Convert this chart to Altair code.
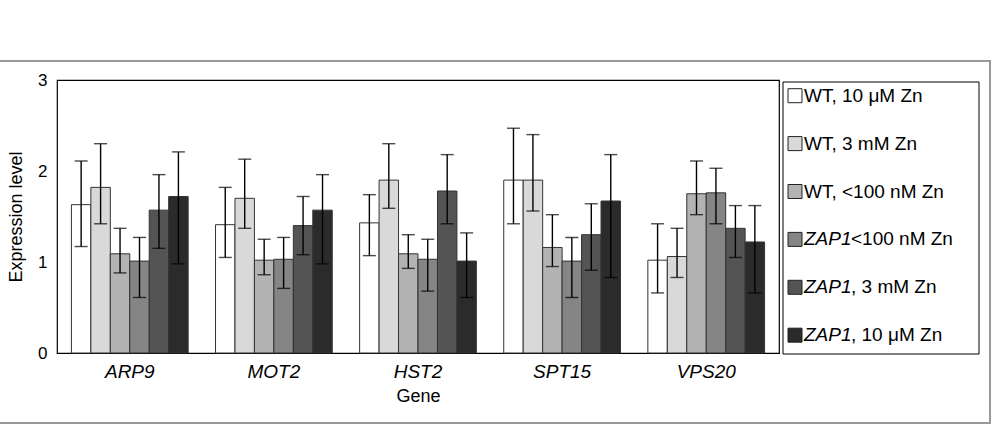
import altair as alt
import pandas as pd

genes = ["ARP9", "MOT2", "HST2", "SPT15", "VPS20"]
series = ["WT, 10 μM Zn", "WT, 3 mM Zn", "WT, <100 nM Zn",
          "ZAP1 <100 nM Zn", "ZAP1, 3 mM Zn", "ZAP1, 10 μM Zn"]
colors = ["#ffffff", "#d9d9d9", "#b3b3b3", "#858585", "#545454", "#2b2b2b"]

# legend text split into italic gene part and plain part
legend_italic = ["", "", "", "ZAP1", "ZAP1", "ZAP1"]
legend_plain = ["WT, 10 μM Zn", "WT, 3 mM Zn", "WT, <100 nM Zn",
                "<100 nM Zn", ", 3 mM Zn", ", 10 μM Zn"]

means = {
    "WT, 10 μM Zn":    [1.63, 1.41, 1.43, 1.90, 1.02],
    "WT, 3 mM Zn":     [1.82, 1.70, 1.90, 1.90, 1.06],
    "WT, <100 nM Zn":  [1.09, 1.02, 1.09, 1.16, 1.75],
    "ZAP1 <100 nM Zn": [1.01, 1.03, 1.03, 1.01, 1.76],
    "ZAP1, 3 mM Zn":   [1.57, 1.40, 1.78, 1.30, 1.37],
    "ZAP1, 10 μM Zn":  [1.72, 1.57, 1.01, 1.67, 1.22],
}
upper = {
    "WT, 10 μM Zn":    [2.11, 1.82, 1.74, 2.47, 1.42],
    "WT, 3 mM Zn":     [2.30, 2.13, 2.30, 2.40, 1.37],
    "WT, <100 nM Zn":  [1.37, 1.25, 1.30, 1.52, 2.11],
    "ZAP1 <100 nM Zn": [1.27, 1.27, 1.25, 1.27, 2.03],
    "ZAP1, 3 mM Zn":   [1.96, 1.72, 2.18, 1.64, 1.62],
    "ZAP1, 10 μM Zn":  [2.21, 1.96, 1.32, 2.18, 1.62],
}
lower = {
    "WT, 10 μM Zn":    [1.17, 1.05, 1.07, 1.42, 0.66],
    "WT, 3 mM Zn":     [1.42, 1.37, 1.59, 1.56, 0.83],
    "WT, <100 nM Zn":  [0.88, 0.86, 0.93, 0.95, 1.52],
    "ZAP1 <100 nM Zn": [0.61, 0.71, 0.68, 0.61, 1.42],
    "ZAP1, 3 mM Zn":   [1.15, 1.08, 1.42, 0.91, 1.05],
    "ZAP1, 10 μM Zn":  [0.98, 0.98, 0.61, 0.83, 0.66],
}

rows = []
for s in series:
    for i, g in enumerate(genes):
        rows.append({"gene": g, "series": s, "value": means[s][i],
                     "hi": upper[s][i], "lo": lower[s][i]})
df = pd.DataFrame(rows)
leg_df = pd.DataFrame({"series": series, "ital": legend_italic, "plain": legend_plain})
one = pd.DataFrame({"k": [0]})

FONT = "Liberation Sans"
W, H = 722, 273

xaxis = alt.Axis(title="Gene", labelFontStyle="italic", labelFontSize=19,
                 titleFontSize=18, titleFontWeight="normal",
                 labelPadding=9, titlePadding=6, ticks=False,
                 domain=False, labelAngle=0, labelColor="black",
                 titleColor="black")
xscale = alt.Scale(paddingInner=0.19, paddingOuter=0.1)
xenc = alt.X("gene:N", sort=genes, scale=xscale, axis=xaxis)
xoff = alt.XOffset("series:N", sort=series, scale=alt.Scale(paddingInner=0, paddingOuter=0))
cenc = alt.Color("series:N", sort=series,
                 scale=alt.Scale(domain=series, range=colors), legend=None)
yscale = alt.Scale(domain=[0, 3], nice=False)
yaxis = alt.Axis(title="Expression level", values=[0, 1, 2, 3], format="d",
                 labelFontSize=17, titleFontSize=18,
                 titleFontWeight="normal", labelPadding=10,
                 titlePadding=12, ticks=False, domain=False,
                 grid=False, labelColor="black", titleColor="black")

base = alt.Chart(df)
bars = base.mark_bar(stroke="#333333", strokeWidth=1).encode(
    x=xenc, xOffset=xoff,
    y=alt.Y("value:Q", scale=yscale, axis=yaxis),
    color=cenc,
)
err = base.mark_rule(color="black", strokeWidth=1.4).encode(
    x=xenc, xOffset=xoff,
    y=alt.Y("lo:Q", scale=yscale, axis=yaxis), y2="hi:Q")
cap_hi = base.mark_tick(orient="horizontal", color="black", size=13, thickness=1.4).encode(
    x=xenc, xOffset=xoff, y=alt.Y("hi:Q", scale=yscale, axis=yaxis))
cap_lo = base.mark_tick(orient="horizontal", color="black", size=13, thickness=1.4).encode(
    x=xenc, xOffset=xoff, y=alt.Y("lo:Q", scale=yscale, axis=yaxis))
main = alt.layer(bars, err, cap_hi, cap_lo)

# outer gray frame and legend box
frame = alt.Chart(one).mark_rect(fill=None, stroke="#999999", strokeWidth=2).encode(
    x=alt.value(-70), x2=alt.value(933), y=alt.value(-19), y2=alt.value(343))
legbox = alt.Chart(one).mark_rect(fill=None, stroke="black", strokeWidth=1).encode(
    x=alt.value(726), x2=alt.value(922), y=alt.value(2), y2=alt.value(274))

ly = alt.Y("series:N", sort=series,
           scale=alt.Scale(type="point", domain=series, range=[15.7, 255.2], padding=0),
           axis=None)
leg = alt.Chart(leg_df)
swatch = leg.mark_square(size=196, stroke="#222222", strokeWidth=1, opacity=1).encode(
    x=alt.value(738), y=ly, color=cenc)
txt_wt = leg.mark_text(align="left", baseline="middle", fontSize=19, font=FONT, color="black").encode(
    x=alt.value(747), y=ly, text="plain:N").transform_filter("datum.ital == ''")
txt_it = leg.mark_text(align="left", baseline="middle", fontSize=19, font=FONT,
                       fontStyle="italic", color="black").encode(
    x=alt.value(747), y=ly, text="ital:N").transform_filter("datum.ital != ''")
txt_pl = leg.mark_text(align="left", baseline="middle", fontSize=19, font=FONT, color="black").encode(
    x=alt.value(794), y=ly, text="plain:N").transform_filter("datum.ital != ''")
legend = alt.layer(swatch, txt_wt, txt_it, txt_pl)

chart = alt.layer(frame, main, legbox, legend).resolve_scale(
    y="independent"
).properties(
    width=W, height=H,
    autosize=alt.AutoSizeParams(type="none"),
    padding={"left": 57, "top": 80, "right": 219, "bottom": 73},
).configure(font=FONT).configure_view(stroke="black", strokeWidth=1.2).configure_axis(
    labelFont=FONT, titleFont=FONT)

chart.save("out.html", embed_options={"renderer": "svg", "actions": False})
